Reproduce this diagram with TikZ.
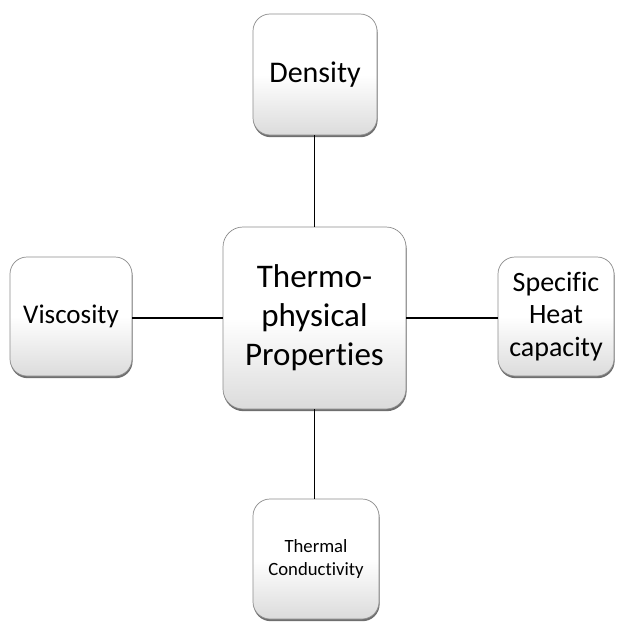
\documentclass[tikz,border=0pt]{standalone}
\usepackage{fontspec}
\setmainfont[RawFeature={-liga;-clig;-calt;-dlig}]{Carlito}
\usetikzlibrary{shadows}
\newcommand{\nolig}{\kern0pt{}}
\begin{document}
\begin{tikzpicture}[x=1pt,y=-1pt,
  propbox/.style={draw=black!45, line width=0.7pt, rounded corners=17pt,
    top color=white, bottom color=black!14, middle color=white,
    align=center, inner sep=0pt, text=black,
    drop shadow={shadow xshift=0.6pt, shadow yshift=-2.2pt, fill=black!75, opacity=0.75}},
  link/.style={draw=black, line width=1.1pt}]
\useasboundingbox (0,0) rectangle (616,623);
\fill[white] (0,0) rectangle (616,623);
\node[propbox, minimum width=124pt, minimum height=121pt,
  font=\fontsize{30}{36}\selectfont] (D) at (315,74.5) {Density};
\node[propbox, minimum width=183pt, minimum height=182pt, rounded corners=20pt,
  font=\fontsize{33}{39}\selectfont] (C) at (314.5,318) {Thermo-\\physical\\Propert\nolig ies};
\node[propbox, minimum width=122pt, minimum height=119pt,
  font=\fontsize{27}{32}\selectfont] (V) at (71,316.5) {Viscosity};
\node[propbox, minimum width=116pt, minimum height=119pt,
  font=\fontsize{28}{32.5}\selectfont] (S) at (556,316.5) {Specif\nolig ic\\Heat\\capacity};
\node[propbox, minimum width=126pt, minimum height=120pt,
  font=\fontsize{18.7}{22.5}\selectfont] (T) at (316,559) {Thermal\\Conduct\nolig ivity};
\path[link] (C.north) -- (C.north |- D.south);
\path[link] (C.south) -- (C.south |- T.north);
\path[link] (C.west) -- (C.west -| V.east);
\path[link] (C.east) -- (C.east -| S.west);
\end{tikzpicture}
\end{document}
